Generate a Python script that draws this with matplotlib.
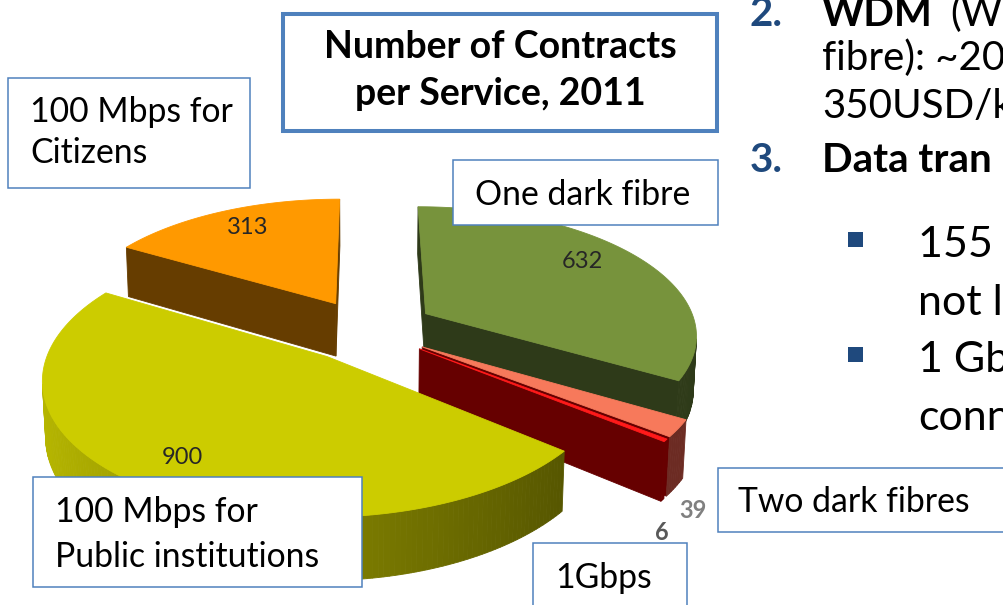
import numpy as np
import matplotlib
matplotlib.use("Agg")
import matplotlib.pyplot as plt
from matplotlib.patches import Polygon, Rectangle

# ---------------------------------------------------------------------------
# data: number of contracts per service, 2011
# ---------------------------------------------------------------------------
services = ["One dark fibre", "Two dark fibres", "1Gbps",
            "100 Mbps for\nPublic institutions", "100 Mbps for\nCitizens"]
contracts = [632, 39, 6, 900, 313]
title_lines = ["Number of Contracts", "per Service, 2011"]

# slide body text (cut off at the right edge in the original slide)
body_lines = ["fibre): ~20", "350USD/k"]
sub_bullets = [["155 M", "not l"], ["1 Gb", "conn"]]

# ---------------------------------------------------------------------------
# styling
# ---------------------------------------------------------------------------
top_colors = ["#77933C", "#F7795B", "#FF1A1A", "#CCCC00", "#FF9900"]
wall_colors = ["#2E3A19", "#660000", "#660000", "#4F4F00", "#663D00"]
outer_light = ["#3A4A1F", "#7A3328", "#7A0000", "#B8B800", "#7A4A00"]
outer_dark = ["#2E3A19", "#6B2A22", "#660000", "#4A4A00", "#663D00"]
explode = [0.253, 0.240, 0.240, 0.251, 0.240]

# perspective camera of the 3-D pie (pixel space of the slide)
alpha, cam_dist, focal, u0, v0 = 0.3808, 6.226, 2248.7, 367.1, 383.2
depth_h, x_scale = 0.1589, 0.7446
cam = np.array([0, -cam_dist * np.cos(alpha), cam_dist * np.sin(alpha)])


def project(X, Y, Z):
    ca, sa = np.cos(alpha), np.sin(alpha)
    depth = cam_dist + Y * ca - Z * sa
    return u0 + x_scale * focal * X / depth, v0 - focal * (Y * sa + Z * ca) / depth


def mix(c1, c2, t):
    a = np.array(matplotlib.colors.to_rgb(c1))
    b = np.array(matplotlib.colors.to_rgb(c2))
    return tuple(a * (1 - t) + b * t)


plt.rcParams['font.family'] = ['Lato', 'DejaVu Sans']
fig = plt.figure(figsize=(10.04, 6.05), dpi=100)
ax = fig.add_axes([0, 0, 1, 1])
ax.set_xlim(0, 1004)
ax.set_ylim(605, 0)
ax.axis('off')


def draw_face(pts, color, z):
    pts = np.array(pts)
    u, v = project(pts[:, 0], pts[:, 1], pts[:, 2])
    ax.add_patch(Polygon(np.column_stack([u, v]), closed=True, facecolor=color,
                         edgecolor=color, linewidth=0.6, zorder=z))


# ---------------------------------------------------------------------------
# 3-D exploded pie, clockwise from 12 o'clock
# ---------------------------------------------------------------------------
vals = np.array(contracts, float)
span = 360 * vals / vals.sum()
ends = np.cumsum(span)
starts = ends - span
mids = np.radians(starts + span / 2)
H = depth_h

# paint slices from the back to the front
order = []
for i in range(len(contracts)):
    oy = explode[i] * np.cos(mids[i])
    order.append((oy + 0.5 * np.cos(mids[i]), i))
order.sort(reverse=True)

z = 1
for _, i in order:
    t1, t2 = np.radians(starts[i]), np.radians(ends[i])
    ox, oy = explode[i] * np.sin(mids[i]), explode[i] * np.cos(mids[i])
    th = np.linspace(t1, t2, max(3, int(span[i]) + 2))
    px, py = ox + np.sin(th), oy + np.cos(th)

    walls = []
    # the two radial walls
    for t, n in [(t1, (-np.cos(t1), np.sin(t1), 0)), (t2, (np.cos(t2), -np.sin(t2), 0))]:
        q = [(ox, oy, 0), (ox, oy, H), (ox + np.sin(t), oy + np.cos(t), H),
             (ox + np.sin(t), oy + np.cos(t), 0)]
        walls.append((q, n, wall_colors[i]))
    # the curved outer wall, shaded lighter to the left
    for k in range(len(th) - 1):
        tm = (th[k] + th[k + 1]) / 2
        q = [(px[k], py[k], 0), (px[k], py[k], H), (px[k + 1], py[k + 1], H),
             (px[k + 1], py[k + 1], 0)]
        shade = np.clip(0.5 + 0.5 * np.sin(tm), 0, 1)
        walls.append((q, (np.sin(tm), np.cos(tm), 0), mix(outer_light[i], outer_dark[i], shade)))

    vis = []
    for q, n, c in walls:
        cen = np.mean(np.array(q), axis=0)
        if np.dot(n, cam - cen) > 0:
            vis.append((cen[1], q, c))
    vis.sort(key=lambda w: -w[0])
    for _, q, c in vis:
        draw_face(q, c, z)
        z += 0.001
    top = [(ox, oy, H)] + [(x, y, H) for x, y in zip(px, py)]
    draw_face(top, top_colors[i], z)
    z += 1

# value labels
label_xy = [(582, 262), (693, 510), (662, 532), (182, 457), (248, 227)]
label_col = ["#262626", "#808080", "#595959", "#262626", "#262626"]
label_w = ['normal', 'bold', 'bold', 'normal', 'normal']
for (x, y), val, c, w in zip(label_xy, contracts, label_col, label_w):
    ax.text(x, y, str(val), fontsize=17, color=c, fontweight=w, ha='center', va='center',
            zorder=20)

# ---------------------------------------------------------------------------
# callout boxes
# ---------------------------------------------------------------------------
edge = "#4F81BD"
ax.add_patch(Rectangle((283, 14), 434, 117, facecolor='white', edgecolor=edge,
                       linewidth=2.9, zorder=30))
for s, y in zip(title_lines, [58, 105]):
    ax.text(500, y, s, fontsize=27, fontweight='bold', ha='center', va='baseline', zorder=31)

# box per service: (x0, y0, x1, y1), text x, first baseline, line step
box_geo = [((453, 160, 718, 225), 475, 205, 0),
           ((718, 468, 1030, 532), 738, 512, 0),
           ((533, 543, 687, 640), 555, 588, 0),
           ((33, 477, 362, 587), 55, 522, 45),
           ((8, 78, 250, 188), 30, 122, 41)]
for name, ((x0, y0, x1, y1), tx, ty, step) in zip(services, box_geo):
    ax.add_patch(Rectangle((x0, y0), x1 - x0, y1 - y0, facecolor='white', edgecolor=edge,
                           linewidth=1.1, zorder=30, clip_on=False))
    for k, line in enumerate(name.split("\n")):
        ax.text(tx, ty + k * step, line, fontsize=24.3, ha='left', va='baseline', zorder=31)

# ---------------------------------------------------------------------------
# slide body text on the right
# ---------------------------------------------------------------------------
blue = "#1F497D"
ax.text(750, 26, "2.", fontsize=29, color=blue, fontweight='bold', va='baseline', zorder=31)
ax.text(822, 26, "WDM", fontsize=29, fontweight='bold', va='baseline', zorder=31)
ax.text(950, 26, "(W", fontsize=29, va='baseline', zorder=31)
for s, y in zip(body_lines, [70, 118]):
    ax.text(822, y, s, fontsize=29, va='baseline', zorder=31)
ax.text(750, 172, "3.", fontsize=29, color=blue, fontweight='bold', va='baseline', zorder=31)
ax.text(822, 172, "Data tran", fontsize=29, fontweight='bold', va='baseline', zorder=31)

for (first, second), y in zip(sub_bullets, [257, 372]):
    ax.add_patch(Rectangle((848, y - 25), 15, 15, facecolor=blue, edgecolor='none', zorder=31))
    ax.text(918, y, first, fontsize=31, va='baseline', zorder=31)
    ax.text(918, y + 58, second, fontsize=31, va='baseline', zorder=31)

fig.savefig("out.png", dpi=100)
